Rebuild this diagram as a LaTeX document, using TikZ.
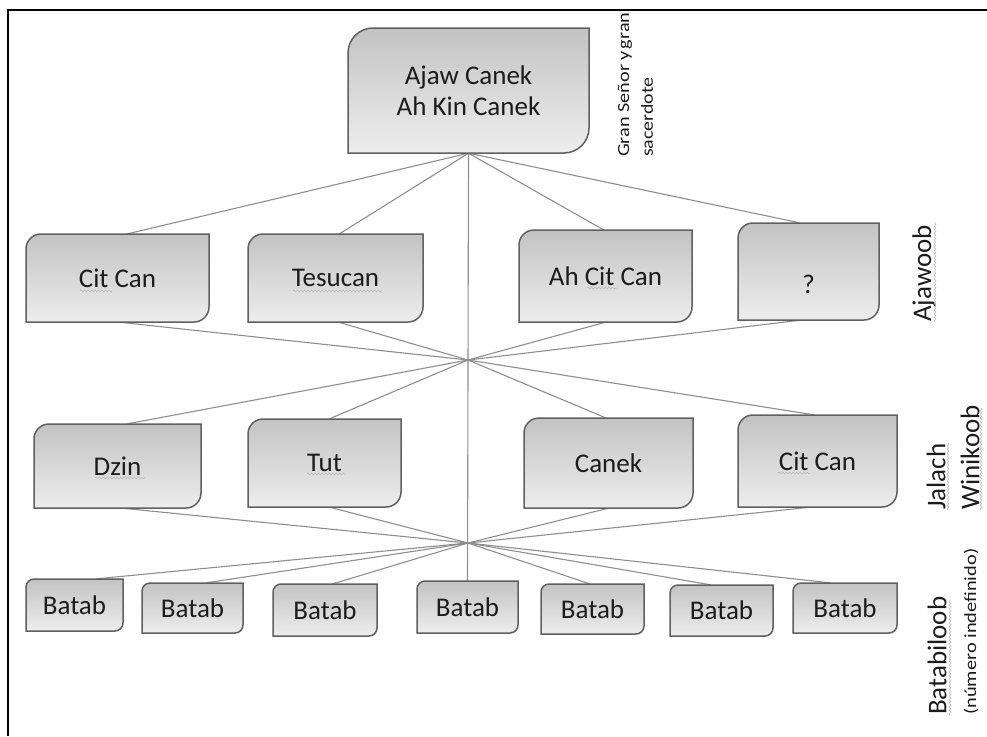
\documentclass[tikz,border=0pt]{standalone}
\usepackage{fontspec}
\setmainfont{Carlito}
\usetikzlibrary{backgrounds,decorations.pathmorphing}
\definecolor{boxtop}{HTML}{C3C3C3}
\definecolor{boxbot}{HTML}{EDEDED}
\definecolor{boxborder}{HTML}{606060}
\definecolor{linegray}{HTML}{8E8E8E}
\definecolor{textcol}{HTML}{1C1C1C}
\tikzset{
  boxsty/.style={draw=boxborder, line width=1.5pt, top color=boxtop, bottom color=boxbot},
  conn/.style={draw=linegray, line width=1.1pt},
  lbl/.style={font=\fontsize{27}{31}\selectfont, text=textcol},
  side/.style={rotate=90, anchor=west, inner sep=0pt, text=textcol},
  squig/.style={draw=gray!55, line width=0.6pt, decorate, decoration={snake, amplitude=0.9pt, segment length=3.5pt}}
}
% name x1 y1 x2 y2 radius text
\newcommand\obox[7]{%
  \draw[boxsty] (#2,#5) -- (#2,{#3+#6}) .. controls (#2,{#3+0.448*#6}) and ({#2+0.448*#6},#3) .. ({#2+#6},#3) -- (#4,#3) -- (#4,{#5-#6}) .. controls (#4,{#5-0.448*#6}) and ({#4-0.448*#6},#5) .. ({#4-#6},#5) -- cycle;
  \node[lbl, inner sep=0pt, minimum width={#4-#2}, minimum height={#5-#3}, align=center] (#1) at ({(#2+#4)/2},{(#3+#5)/2}) {#7};
}
\begin{document}
\begin{tikzpicture}[x=1pt,y=-1pt]
\useasboundingbox (0,0) rectangle (987,736);
% frame
\draw[line width=2pt, black] (987,9.5) -- (7.5,9.5) -- (7.5,736);

% top
\obox{top}{348}{28}{589}{153}{25}{Ajaw Canek\\Ah Kin Canek}
% row 2
\obox{c1}{26}{234}{209}{322}{15}{Cit Can}
\obox{c2}{248}{234}{423}{322}{15}{Tesucan}
\obox{c3}{519}{230}{692}{322}{15}{Ah Cit Can}
\obox{c4}{738}{223}{879}{320}{15}{}
\node[lbl] (q) at ([yshift=-13pt]c4.center) {?};
% row 3
\obox{d1}{34}{424}{201}{508}{15}{Dzin}
\obox{d2}{248}{419}{401}{507}{15}{Tut}
\obox{d3}{524}{418}{693}{508}{15}{Canek}
\obox{d4}{738}{415}{897}{507}{15}{Cit Can}
% row 4
\obox{b1}{26}{579}{123}{631}{8}{Batab}
\obox{b2}{142}{583}{243}{633}{8}{Batab}
\obox{b3}{273}{584}{377}{636}{8}{Batab}
\obox{b4}{417}{581}{518}{633}{8}{Batab}
\obox{b5}{541}{584}{644}{634}{8}{Batab}
\obox{b6}{670}{585}{773}{636}{8}{Batab}
\obox{b7}{793}{583}{897}{633}{8}{Batab}

\coordinate (h1) at (468,360);
\coordinate (h2) at (468,543);

\begin{scope}[on background layer]
\fill[white] (0,0) rectangle (987,736);
\draw[conn] (top.south) -- ([xshift=10pt]c1.north);
\draw[conn] (top.south) -- ([xshift=4pt]c2.north);
\draw[conn] (top.south) -- ([xshift=-2pt]c3.north);
\draw[conn] (top.south) -- ([xshift=-9pt]c4.north);
\draw[conn] (top.south) -- (b4.north);
\draw[conn] ([xshift=2pt]c1.south) -- (h1);
\draw[conn] ([xshift=3pt]c2.south) -- (h1);
\draw[conn] (c3.south) -- (h1);
\draw[conn] ([xshift=-8pt]c4.south) -- (h1);
\draw[conn] (h1) -- ([xshift=10pt]d1.north);
\draw[conn] (h1) -- ([xshift=5pt]d2.north);
\draw[conn] (h1) -- ([xshift=-3pt]d3.north);
\draw[conn] (h1) -- ([xshift=-4pt]d4.north);
\draw[conn] ([xshift=5pt]d1.south) -- (h2);
\draw[conn] ([xshift=5pt]d2.south) -- (h2);
\draw[conn] (d3.south) -- (h2);
\draw[conn] ([xshift=-7pt]d4.south) -- (h2);
\draw[conn] (h2) -- ([xshift=22pt]b1.north);
\draw[conn] (h2) -- ([xshift=14pt]b2.north);
\draw[conn] (h2) -- ([xshift=8pt]b3.north);
\draw[conn] (h2) -- ([xshift=-3pt]b5.north);
\draw[conn] (h2) -- ([xshift=-11pt]b6.north);
\draw[conn] (h2) -- ([xshift=-15pt]b7.north);
\end{scope}

% side labels
\node[side, font=\fontsize{17}{17}\selectfont] (gs1) at (625,157) {\scalebox{1.19}[1]{Gran Señor y\hspace{0.1em}gran}};
\node[side, font=\fontsize{17}{17}\selectfont] (gs2) at (647,157) {\scalebox{1.17}[1]{sacerdote}};
\node[side, font=\fontsize{27}{27}\selectfont] (aj) at (924,322) {Ajawoob};
\node[side, font=\fontsize{27}{27}\selectfont] (ja) at (936,510) {Jalach};
\node[side, font=\fontsize{27}{27}\selectfont] (wi) at (970,510) {Winikoob};
\node[side, font=\fontsize{27}{27}\selectfont] (ba) at (937,715) {Batabiloob};
\node[side, font=\fontsize{17}{17}\selectfont] (nu) at (971,715) {\scalebox{1.2}[1]{(número indefinido)}};

% spell-check squiggles
\draw[squig] (80,291) -- (112,291);
\draw[squig] (293,291) -- (382,291);
\draw[squig] (587,288) -- (617,288);
\draw[squig] (95,478) -- (145,478);
\draw[squig] (307,474) -- (345,474);
\draw[squig] (778,473) -- (810,473);
\draw[squig] (935,322) -- (935,222);
\draw[squig] (948,510) -- (948,443);
\draw[squig] (981,510) -- (981,408);
\draw[squig] (950,715) -- (950,600);
\end{tikzpicture}
\end{document}
